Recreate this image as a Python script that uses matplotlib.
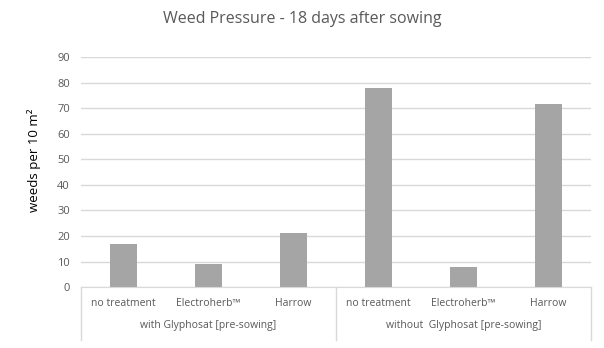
import matplotlib.pyplot as plt
import matplotlib.transforms as mtransforms

# data
treatments = ['no treatment', 'Electroherb\u2122', 'Harrow',
              'no treatment', 'Electroherb\u2122', 'Harrow']
groups = ['with Glyphosat [pre-sowing]', 'without  Glyphosat [pre-sowing]']
weeds = [17, 9, 21, 78, 8, 71.5]

plt.rcParams['font.family'] = ['Open Sans', 'DejaVu Sans']
grey_text = '#595959'
line_col = '#d9d9d9'

fig = plt.figure(figsize=(6.04, 3.48), dpi=100)
ax = fig.add_axes([0.134, 0.175, 0.844, 0.661])

x = list(range(len(weeds)))
ax.bar(x, weeds, width=0.32, color='#a5a5a5', zorder=2)

ax.set_xlim(-0.5, len(weeds) - 0.5)
ax.set_ylim(0, 90)
ax.set_yticks(range(0, 91, 10))
ax.grid(axis='y', color=line_col, linewidth=1, zorder=0)
ax.tick_params(axis='y', length=0, labelsize=8, labelcolor=grey_text, pad=8)
ax.tick_params(axis='x', length=0, labelsize=7.5, labelcolor=grey_text, pad=8)
ax.set_xticks(x)
ax.set_xticklabels(treatments)

for s in ['top', 'right', 'left']:
    ax.spines[s].set_visible(False)
ax.spines['bottom'].set_color(line_col)

# group labels and separators under the axis
trans = mtransforms.blended_transform_factory(ax.transData, ax.transAxes)
for i, g in enumerate(groups):
    ax.text(i * 3 + 1, -0.165, g, transform=trans, ha='center', va='center',
            fontsize=7.5, color=grey_text)
for b in [-0.5, 2.5, 5.5]:
    ax.plot([b, b], [0, -0.23], transform=trans, color=line_col,
            linewidth=1, clip_on=False)

ax.set_ylabel('weeds per 10 m\u00b2', fontsize=9.5, color='black')
ax.yaxis.set_label_coords(-0.078, 0.55)
fig.text(0.5, 0.945, 'Weed Pressure - 18 days after sowing', ha='center',
         va='center', fontsize=11.5, color=grey_text)

fig.savefig('out.png', dpi=100)
